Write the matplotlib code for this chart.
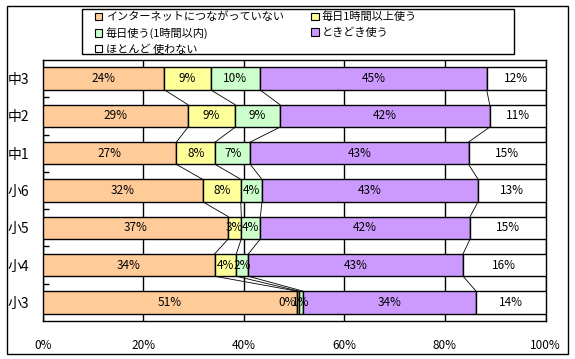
import numpy as np
import matplotlib
matplotlib.use("Agg")
import matplotlib.pyplot as plt
from matplotlib.patches import Rectangle, Patch

plt.rcParams['font.family'] = ['Noto Sans CJK JP', 'DejaVu Sans']
plt.rcParams['font.size'] = 8

# data, top row first
grades = ['中3', '中2', '中1', '小6', '小5', '小4', '小3']
series_names = ['インターネットにつながっていない', '毎日1時間以上使う', '毎日使う(1時間以内)',
                'ときどき使う', 'ほとんど 使わない']
not_connected = [24.2, 28.9, 26.6, 31.8, 36.9, 34.2, 50.6]
daily_long = [9.2, 9.4, 7.7, 7.6, 2.6, 4.3, 0.4]
daily_short = [9.8, 8.9, 7.0, 4.2, 3.8, 2.4, 0.8]
sometimes = [45.1, 41.7, 43.4, 43.0, 41.7, 42.7, 34.4]
rarely = [11.7, 11.1, 15.3, 13.4, 15.0, 16.4, 13.8]
colors = ['#FFCC99', '#FFFF99', '#CCFFCC', '#CC99FF', '#FFFFFF']

data = np.array([not_connected, daily_long, daily_short, sometimes, rarely])
y = np.arange(len(grades))
bar_h = 0.6

fig = plt.figure(figsize=(5.75, 3.59), dpi=100)
W, H = 575, 359
ax = fig.add_axes([42.7 / W, 1 - 321 / H, (545.5 - 42.7) / W, (321 - 60) / H])

left = np.zeros(len(grades))
handles = []
for vals, col, name in zip(data, colors, series_names):
    ax.barh(y, vals, left=left, height=bar_h, color=col, edgecolor='black', linewidth=1, zorder=3)
    for yi, (l, v) in enumerate(zip(left, vals)):
        lab = f"{int(round(v))}%"
        if round(v) == 0:
            ax.text(l - 0.3, yi, lab, ha='right', va='center', fontsize=8.5, zorder=5)
        else:
            ax.text(l + v / 2, yi, lab, ha='center', va='center', fontsize=8.5, zorder=5)
    handles.append(Patch(facecolor=col, edgecolor='black', linewidth=0.8, label=name))
    left = left + vals

# series lines between bars
cum = np.cumsum(data, axis=0)[:4]
for row in cum:
    for i in range(len(grades) - 1):
        ax.plot([row[i], row[i + 1]], [i + bar_h / 2, i + 1 - bar_h / 2],
                color='black', linewidth=0.6, zorder=2)

ax.set_xlim(0, 100)
ax.set_ylim(len(grades) - 0.5, -0.5)
ax.set_xticks([0, 20, 40, 60, 80, 100])
ax.set_xticklabels([f"{v}%" for v in [0, 20, 40, 60, 80, 100]], fontsize=8.5)
ax.set_yticks(y)
ax.set_yticklabels(grades, fontsize=10)
ax.set_yticks(np.arange(0.5, len(grades) - 1, 1), minor=True)
ax.tick_params(axis='y', which='major', length=0, pad=10)
ax.tick_params(axis='y', which='minor', direction='in', length=4, width=1)
ax.tick_params(axis='x', length=0, pad=13)
ax.grid(axis='x', color='black', linewidth=1, zorder=0)
ax.set_axisbelow(True)
for s in ax.spines.values():
    s.set_linewidth(1)
    s.set_color('black')

# legend, row-major order; frame drawn separately
order = [0, 2, 4, 1, 3]
leg = fig.legend([handles[k] for k in order], [series_names[k] for k in order],
                 loc='upper left', bbox_to_anchor=(95 / W, 1 - 11.5 / H),
                 ncol=2, frameon=False, borderaxespad=0, borderpad=0,
                 handlelength=0.65, handleheight=0.65, handletextpad=0.3,
                 labelspacing=0.45, columnspacing=2.5, fontsize=8)
fig.add_artist(Rectangle((82 / W, 1 - 54 / H), (514 - 82) / W, 45.5 / H,
                         transform=fig.transFigure, fill=False, edgecolor='black', linewidth=1))

fig.add_artist(Rectangle((6.5 / W, 1 - 353.5 / H), (568 - 6.5) / W, (353.5 - 6) / H,
                         transform=fig.transFigure, fill=False, edgecolor='black', linewidth=1))

fig.savefig('out.png', dpi=100)
